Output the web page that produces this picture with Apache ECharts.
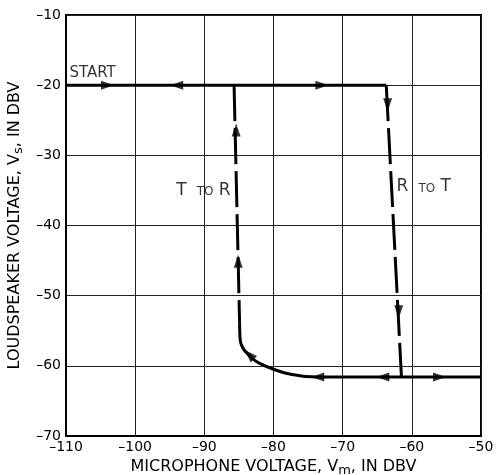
<!DOCTYPE html>
<html><head><meta charset="utf-8">
<script src="https://cdn.jsdelivr.net/npm/echarts@6/dist/echarts.min.js"></script>
<style>html,body{margin:0;padding:0;background:#fff}#c{width:496px;height:475px}</style>
</head><body><div id="c"></div>
<script>
// ---- data ----
const xRange = [-110, -50];
const yRange = [-70, -10];
const tickStep = 10;
const topLine = [[-110, -20], [-63.7, -20]];
const rToT = [[-63.7, -20], [-61.5, -61.6]];
const tToR = [[-85.7, -20], [-84.9, -54]];
const curve = [[-84.9, -54], [-84.85, -55.9], [-84.7, -56.85], [-84.3, -57.65], [-83.8, -58.25], [-83.0, -59.0], [-82.0, -59.65], [-80.1, -60.45], [-78.2, -61.05], [-76.2, -61.4], [-74.5, -61.57], [-73.3, -61.6]];
const bottomLine = [[-73.3, -61.6], [-50, -61.6]];
// arrows: [x, y, direction in degrees (0 = up, counter-clockwise)]
const arrows = [
  [-104, -20, -90], [-94, -20, 90], [-73, -20, -90],
  [-63.5, -22.8, 180], [-61.9, -52.3, 180],
  [-85.4, -26.4, 0], [-85.1, -45.1, 0],
  [-83.5, -58.4, 45],
  [-73.6, -61.6, 90], [-64.2, -61.6, 90], [-56, -61.6, -90]
];
const notes = [
  {text: 'START', at: [-109.5, -18.3], side: 'right'},
  {text: '{b|T}{g| }{s|TO}{b| R}', at: [-86.2, -35.0], side: 'left'},
  {text: '{b|R}{g| }{s|TO}{b| T}', at: [-62.2, -34.5], side: 'right'}
];
const xName = 'MICROPHONE VOLTAGE, V{sub|m}, IN DBV';
const yName = 'LOUDSPEAKER VOLTAGE, V{sub|s}, IN DBV';

// ---- chart ----
const font = 'DejaVu Sans';
const nameRich = {sub: {fontSize: 13, fontFamily: font, color: '#000', padding: [7, 0, 0, 0]}};
const fmt = v => String(v).replace('-', '\u2013');
const lineSeries = (d, dashed, smooth) => ({
  type: 'line', data: d, showSymbol: false, symbol: 'none', smooth: smooth || false,
  lineStyle: {color: '#000', width: 3, type: dashed ? [36, 7] : 'solid'}, z: 3
});
const chart = echarts.init(document.getElementById('c'));
chart.setOption({
  animation: false,
  grid: {left: 66, right: 15, top: 15, bottom: 39, show: true, borderColor: '#000', borderWidth: 2,
         containLabel: false, outerBoundsMode: 'none'},
  xAxis: {
    type: 'value', min: xRange[0], max: xRange[1], interval: tickStep,
    name: xName, nameLocation: 'middle', nameGap: 19,
    nameTextStyle: {fontFamily: font, fontSize: 16, color: '#000', rich: nameRich},
    axisLine: {lineStyle: {color: '#000', width: 2}}, axisTick: {show: false},
    axisLabel: {formatter: fmt, fontFamily: font, fontSize: 14, color: '#000', margin: 4},
    splitLine: {lineStyle: {color: '#222', width: 1}}
  },
  yAxis: {
    type: 'value', min: yRange[0], max: yRange[1], interval: tickStep,
    name: yName, nameLocation: 'middle', nameGap: 33,
    nameTextStyle: {fontFamily: font, fontSize: 16, color: '#000', rich: nameRich},
    axisLine: {lineStyle: {color: '#000', width: 2}}, axisTick: {show: false},
    axisLabel: {formatter: fmt, fontFamily: font, fontSize: 14, color: '#000', margin: 5},
    splitLine: {lineStyle: {color: '#222', width: 1}}
  },
  series: [
    lineSeries(topLine, false),
    lineSeries(rToT, true),
    lineSeries(tToR, true),
    lineSeries(curve, false, 0.2),
    lineSeries(bottomLine, false),
    {
      type: 'scatter', symbol: 'triangle', symbolSize: [9, 13], z: 4,
      itemStyle: {color: '#000'},
      data: arrows.map(a => ({value: [a[0], a[1]], symbolRotate: a[2]}))
    },
    {
      type: 'scatter', symbolSize: 0, z: 5,
      data: notes.map(n => ({
        value: n.at,
        label: {
          show: true, position: n.side, distance: 0, formatter: n.text,
          fontFamily: font, fontSize: 15, color: '#000',
          rich: {
            b: {fontFamily: font, fontSize: 17, color: '#000'},
            g: {fontFamily: font, fontSize: 17, color: '#000', width: 10},
            s: {fontFamily: font, fontSize: 12, color: '#000', padding: [3, 0, 0, 0]}
          }
        }
      }))
    }
  ]
});
</script></body></html>
